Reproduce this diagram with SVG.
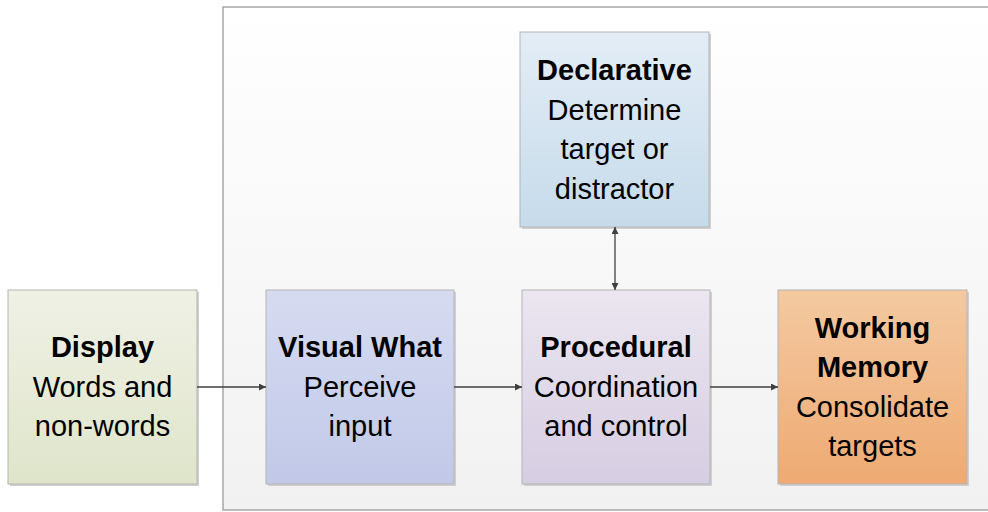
<svg xmlns="http://www.w3.org/2000/svg" width="988" height="512" viewBox="0 0 988 512">
<defs>
<linearGradient id="gBg" x1="0" y1="0" x2="0" y2="1"><stop offset="0" stop-color="#ffffff"/><stop offset="1" stop-color="#f1f1f1"/></linearGradient>
<linearGradient id="gDisp" x1="0" y1="0" x2="0" y2="1"><stop offset="0" stop-color="#eff1e5"/><stop offset="1" stop-color="#dfe5ca"/></linearGradient>
<linearGradient id="gVis" x1="0" y1="0" x2="0" y2="1"><stop offset="0" stop-color="#d6dbf1"/><stop offset="1" stop-color="#c1c9e8"/></linearGradient>
<linearGradient id="gProc" x1="0" y1="0" x2="0" y2="1"><stop offset="0" stop-color="#ebe6f0"/><stop offset="1" stop-color="#d6cde2"/></linearGradient>
<linearGradient id="gDecl" x1="0" y1="0" x2="0" y2="1"><stop offset="0" stop-color="#e3edf6"/><stop offset="1" stop-color="#c6dbea"/></linearGradient>
<linearGradient id="gWM" x1="0" y1="0" x2="0" y2="1"><stop offset="0" stop-color="#f4c9a1"/><stop offset="1" stop-color="#eeaa72"/></linearGradient>
<marker id="arr" viewBox="0 0 10 10" refX="10" refY="5" markerWidth="9" markerHeight="7" markerUnits="userSpaceOnUse" orient="auto-start-reverse"><path d="M0,0 L10,5 L0,10 z" fill="#404040"/></marker>
</defs>
<style>
.box{stroke:#b4b4b4;stroke-width:1}
.shadow{fill:#d0d0d0}
text{font-family:"Liberation Sans",Arial,sans-serif;font-size:29px;fill:#000;text-anchor:middle}
.b{font-weight:bold}
.conn{stroke:#404040;stroke-width:1.3;fill:none}
</style>
<rect x="223" y="7" width="780" height="503" fill="url(#gBg)" stroke="#a6a6a6" stroke-width="1.5"/>
<g id="display">
<rect class="shadow" x="10" y="292" width="189" height="194"/>
<rect class="box" x="8" y="290" width="189" height="194" fill="url(#gDisp)"/>
<text class="b" x="102.5" y="357">Display</text>
<text x="102.5" y="397">Words and</text>
<text x="102.5" y="436">non-words</text>
</g>
<g id="visual">
<rect class="shadow" x="268" y="292" width="188" height="194"/>
<rect class="box" x="266" y="290" width="188" height="194" fill="url(#gVis)"/>
<text class="b" x="360" y="357">Visual What</text>
<text x="360" y="397">Perceive</text>
<text x="360" y="436">input</text>
</g>
<g id="procedural">
<rect class="shadow" x="524" y="292" width="188" height="194"/>
<rect class="box" x="522" y="290" width="188" height="194" fill="url(#gProc)"/>
<text class="b" x="616" y="357">Procedural</text>
<text x="616" y="397">Coordination</text>
<text x="616" y="436">and control</text>
</g>
<g id="declarative">
<rect class="shadow" x="522" y="34" width="189" height="195"/>
<rect class="box" x="520" y="32" width="189" height="195" fill="url(#gDecl)"/>
<text class="b" x="614.5" y="80">Declarative</text>
<text x="614.5" y="120">Determine</text>
<text x="614.5" y="159">target or</text>
<text x="614.5" y="199">distractor</text>
</g>
<g id="working-memory">
<rect class="shadow" x="780" y="292" width="189" height="194"/>
<rect class="box" x="778" y="290" width="189" height="194" fill="url(#gWM)"/>
<text class="b" x="872.5" y="338">Working</text>
<text class="b" x="872.5" y="377">Memory</text>
<text x="872.5" y="417">Consolidate</text>
<text x="872.5" y="456">targets</text>
</g>
<g id="connectors">
<line class="conn" x1="197" y1="387" x2="266" y2="387" marker-end="url(#arr)"/>
<line class="conn" x1="454" y1="387" x2="522" y2="387" marker-end="url(#arr)"/>
<line class="conn" x1="710" y1="387" x2="778" y2="387" marker-end="url(#arr)"/>
<line class="conn" x1="615" y1="227" x2="615" y2="290" marker-start="url(#arr)" marker-end="url(#arr)"/>
</g>
</svg>
